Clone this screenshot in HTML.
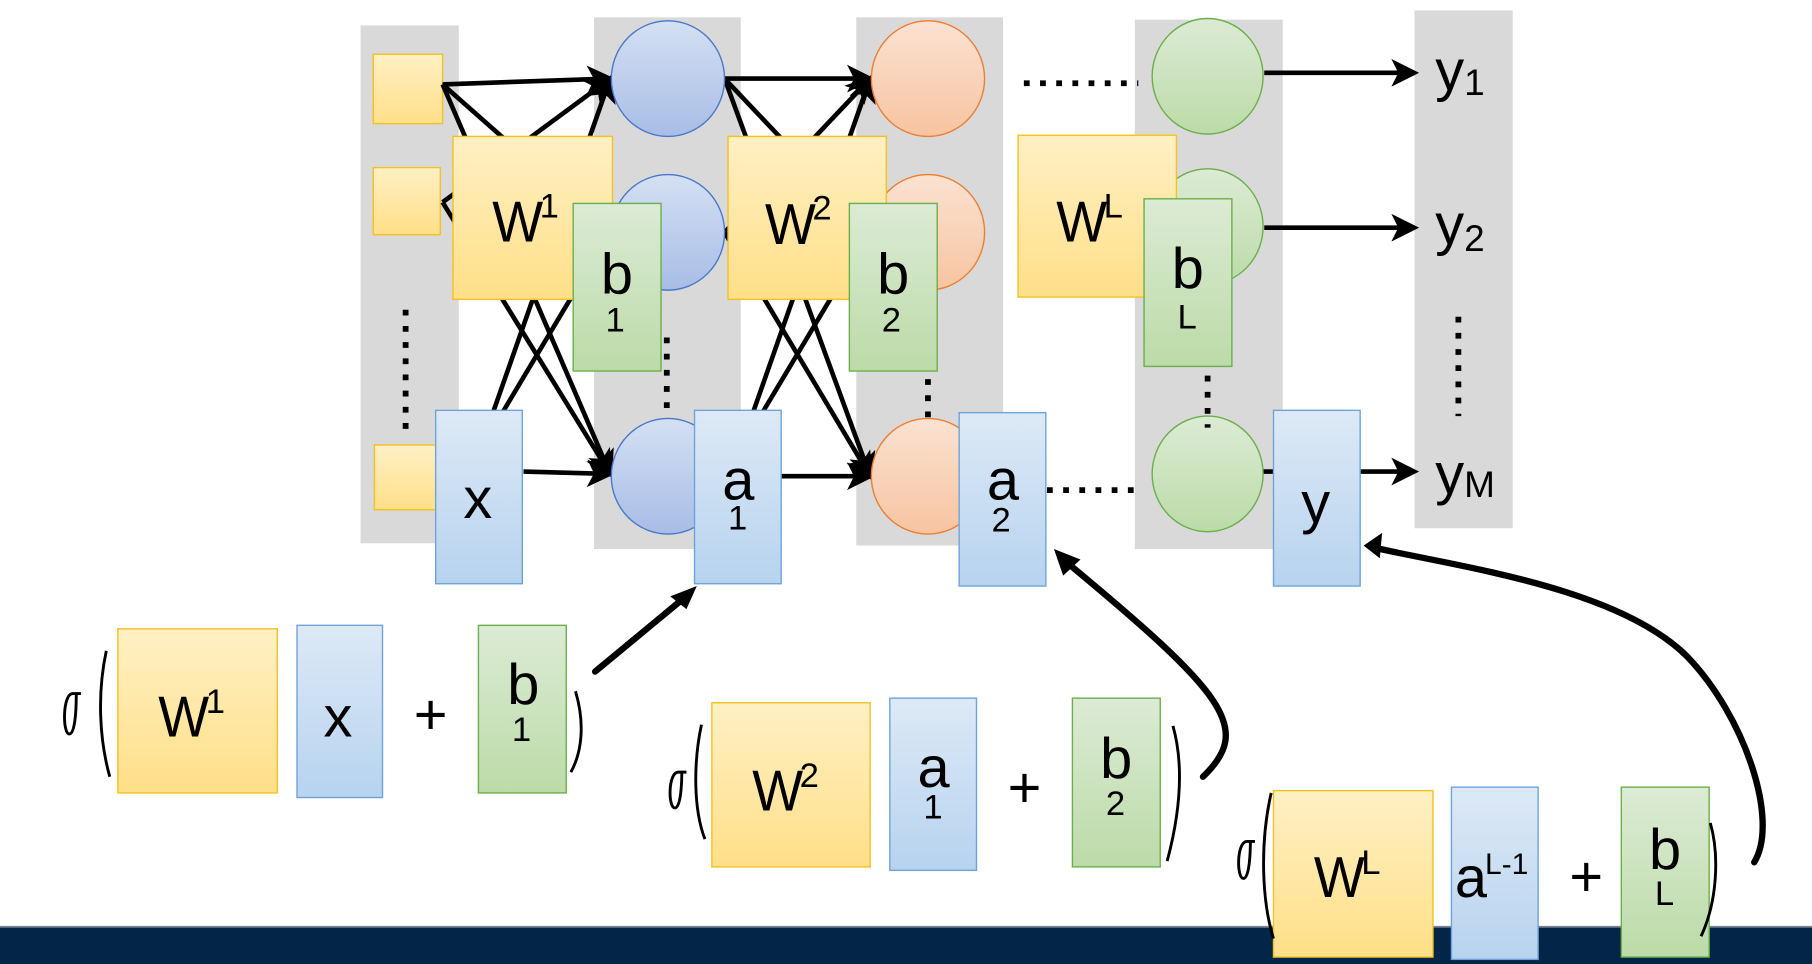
<!DOCTYPE html>
<html><head><meta charset="utf-8"><style>
html,body{margin:0;padding:0;background:#fff;overflow:hidden}
svg{display:block}
text{font-family:"Liberation Sans",sans-serif;fill:#000}
</style></head><body>
<svg width="1812" height="964" viewBox="0 0 1568 834" preserveAspectRatio="none" xmlns="http://www.w3.org/2000/svg">
<defs>
<linearGradient id="gy" x1="0" y1="0" x2="0" y2="1"><stop offset="0" stop-color="#fff0c4"/><stop offset="1" stop-color="#ffdf88"/></linearGradient>
<linearGradient id="gb" x1="0" y1="0" x2="0" y2="1"><stop offset="0" stop-color="#dde9f6"/><stop offset="1" stop-color="#b7d3ef"/></linearGradient>
<linearGradient id="gg" x1="0" y1="0" x2="0" y2="1"><stop offset="0" stop-color="#dcebd5"/><stop offset="1" stop-color="#bcdba8"/></linearGradient>
<linearGradient id="gc1" x1="0" y1="0" x2="0" y2="1"><stop offset="0" stop-color="#d4e0f3"/><stop offset="1" stop-color="#a8bde6"/></linearGradient>
<linearGradient id="gc2" x1="0" y1="0" x2="0" y2="1"><stop offset="0" stop-color="#fbe2d2"/><stop offset="1" stop-color="#f7c4a0"/></linearGradient>
<linearGradient id="gc3" x1="0" y1="0" x2="0" y2="1"><stop offset="0" stop-color="#dcebd5"/><stop offset="1" stop-color="#bcdba8"/></linearGradient>
<marker id="ar" markerWidth="6" markerHeight="6" refX="5" refY="3" orient="auto" markerUnits="strokeWidth"><path d="M0,0 L6,3 L0,6 L1.5,3 Z" fill="#000"/></marker>
</defs>

<g fill="#d9d9d9">
<rect x="312" y="22" width="85" height="448"/>
<rect x="514" y="15" width="127" height="460"/>
<rect x="741" y="15" width="127" height="457"/>
<rect x="982" y="17" width="128" height="458"/>
<rect x="1224" y="9" width="85" height="448"/>
</g>

<g fill="url(#gy)" stroke="#f5c021" stroke-width="1.2">
<rect x="323" y="47" width="60" height="60"/>
<rect x="323" y="145" width="58" height="58"/>
<rect x="324" y="385" width="60" height="56"/>
</g>

<g stroke="#000" stroke-width="4" fill="none" marker-end="url(#ar)">
<line x1="383" y1="73" x2="528" y2="68"/>
<line x1="383" y1="73" x2="528" y2="201"/>
<line x1="383" y1="73" x2="528" y2="410"/>
<line x1="383" y1="175" x2="528" y2="68"/>
<line x1="383" y1="175" x2="528" y2="410"/>
<line x1="415" y1="390" x2="528" y2="68"/>
<line x1="415" y1="390" x2="528" y2="201"/>
<line x1="453" y1="408" x2="528" y2="410"/>
<line x1="627" y1="68" x2="753" y2="68"/>
<line x1="627" y1="68" x2="753" y2="201"/>
<line x1="627" y1="68" x2="753" y2="412"/>
<line x1="627" y1="201" x2="753" y2="68"/>
<line x1="627" y1="201" x2="753" y2="412"/>
<line x1="640" y1="390" x2="753" y2="68"/>
<line x1="640" y1="390" x2="753" y2="201"/>
<line x1="676" y1="412" x2="753" y2="412"/>
<line x1="1094" y1="63" x2="1224" y2="63"/>
<line x1="1094" y1="197" x2="1224" y2="197"/>
<line x1="1092" y1="408" x2="1224" y2="408"/>
</g>

<g stroke="#4a77c9" stroke-width="1.2" fill="url(#gc1)">
<ellipse cx="578" cy="68" rx="49" ry="50"/>
<ellipse cx="578" cy="201" rx="49" ry="50"/>
<ellipse cx="578" cy="412" rx="49" ry="50"/>
</g>
<g stroke="#ed7d31" stroke-width="1.2" fill="url(#gc2)">
<ellipse cx="803" cy="68" rx="49" ry="50"/>
<ellipse cx="803" cy="201" rx="49" ry="50"/>
<ellipse cx="803" cy="412" rx="49" ry="50"/>
</g>
<g stroke="#6aaf4a" stroke-width="1.2" fill="url(#gc3)">
<ellipse cx="1045" cy="66" rx="48" ry="50"/>
<ellipse cx="1045" cy="196" rx="48" ry="50"/>
<ellipse cx="1045" cy="410" rx="48" ry="50"/>
</g>

<g stroke="#000" stroke-width="5" stroke-dasharray="5,9" fill="none">
<line x1="886" y1="72" x2="985" y2="72"/>
<line x1="906" y1="424" x2="985" y2="424"/>
<line x1="351" y1="268" x2="351" y2="372"/>
<line x1="577" y1="292" x2="577" y2="360"/>
<line x1="803" y1="328" x2="803" y2="368"/>
<line x1="1045" y1="325" x2="1045" y2="370"/>
<line x1="1262" y1="274" x2="1262" y2="360"/>
</g>

<g stroke-width="1.2">
<rect x="392" y="118" width="138" height="141" fill="url(#gy)" stroke="#f5c021"/>
<rect x="496" y="176" width="76" height="145" fill="url(#gg)" stroke="#6aaf4a"/>
<rect x="377" y="355" width="75" height="150" fill="url(#gb)" stroke="#6fa3d8"/>
<rect x="601" y="355" width="75" height="150" fill="url(#gb)" stroke="#6fa3d8"/>
<rect x="630" y="118" width="137" height="141" fill="url(#gy)" stroke="#f5c021"/>
<rect x="735" y="176" width="76" height="145" fill="url(#gg)" stroke="#6aaf4a"/>
<rect x="830" y="357" width="75" height="150" fill="url(#gb)" stroke="#6fa3d8"/>
<rect x="881" y="117" width="137" height="140" fill="url(#gy)" stroke="#f5c021"/>
<rect x="990" y="172" width="76" height="145" fill="url(#gg)" stroke="#6aaf4a"/>
<rect x="1102" y="355" width="75" height="152" fill="url(#gb)" stroke="#6fa3d8"/>
</g>

<g font-size="50">
<text x="426" y="209" textLength="44" lengthAdjust="spacingAndGlyphs">W</text><text x="467" y="188" font-size="30">1</text>
<text x="662" y="211" textLength="44" lengthAdjust="spacingAndGlyphs">W</text><text x="703" y="190" font-size="30">2</text>
<text x="914" y="209" textLength="44" lengthAdjust="spacingAndGlyphs">W</text><text x="955" y="188" font-size="30">L</text>
<text x="520" y="254">b</text><text x="524" y="287" font-size="30">1</text>
<text x="759" y="254">b</text><text x="763" y="287" font-size="30">2</text>
<text x="1014" y="249">b</text><text x="1019" y="284" font-size="30">L</text>
<text x="401" y="448">x</text>
<text x="625" y="432">a</text><text x="630" y="458" font-size="30">1</text>
<text x="854" y="432">a</text><text x="858" y="460" font-size="30">2</text>
<text x="1126" y="452">y</text>
<text x="1242" y="78">y</text><text x="1267" y="82" font-size="32">1</text>
<text x="1242" y="211">y</text><text x="1267" y="217" font-size="32">2</text>
<text x="1242" y="427">y</text><text x="1267" y="430" font-size="32">M</text>
</g>

<g stroke-width="1.2">
<rect x="102" y="544" width="138" height="142" fill="url(#gy)" stroke="#f5c021"/>
<rect x="257" y="541" width="74" height="149" fill="url(#gb)" stroke="#6fa3d8"/>
<rect x="414" y="541" width="76" height="145" fill="url(#gg)" stroke="#6aaf4a"/>
<rect x="616" y="608" width="137" height="142" fill="url(#gy)" stroke="#f5c021"/>
<rect x="770" y="604" width="75" height="149" fill="url(#gb)" stroke="#6fa3d8"/>
<rect x="928" y="604" width="76" height="146" fill="url(#gg)" stroke="#6aaf4a"/>
</g>
<g font-size="50">
<text x="137" y="637" textLength="44" lengthAdjust="spacingAndGlyphs">W</text><text x="178" y="617" font-size="30">1</text>
<text x="280" y="637">x</text>
<text x="358" y="635">+</text>
<text x="439" y="609">b</text><text x="443" y="641" font-size="30">1</text>
<text x="651" y="701" textLength="44" lengthAdjust="spacingAndGlyphs">W</text><text x="692" y="681" font-size="30">2</text>
<text x="794" y="681">a</text><text x="799" y="708" font-size="30">1</text>
<text x="872" y="698">+</text>
<text x="952" y="673">b</text><text x="957" y="705" font-size="30">2</text>
</g>
<g stroke="#000" stroke-width="2.5" fill="none">
<path d="M63,600 C54,600 54,635 60,635 C66,635 66,605 66,600 L70,600 Z"/>
<path d="M92,563 C84,600 86,640 95,672"/>
<path d="M498,598 C506,625 504,650 494,668"/>
<path d="M587,668 C578,668 578,699 584,699 C590,699 590,670 590,668 L594,668 Z"/>
<path d="M607,627 C600,660 600,700 610,726"/>
<path d="M1015,628 C1024,660 1022,700 1010,745"/>
<path d="M1079,728 C1070,728 1070,760 1076,760 C1082,760 1082,730 1082,728 L1086,728 Z"/>
</g>
<g stroke="#000" stroke-width="5.5" fill="none" stroke-linecap="round">
<path d="M515,581 L596,514"/>
<path d="M1041,672 C1085,630 1060,600 920,484"/>
<path d="M1518,746 C1540,710 1510,620 1460,568 C1400,508 1260,490 1190,474"/>
</g>
<g fill="#000">
<polygon points="603,507 580,516 594,527"/>
<polygon points="912,475 920,498 935,484"/>
<polygon points="1180,472 1196,461 1194,483"/>
</g>

<rect x="0" y="801" width="1568" height="1.5" fill="#7a8597"/>
<rect x="0" y="802.5" width="1568" height="32" fill="#022548"/>
<g stroke-width="1.2">
<rect x="1102" y="684" width="138" height="144" fill="url(#gy)" stroke="#f5c021"/>
<rect x="1256" y="681" width="75" height="149" fill="url(#gb)" stroke="#6fa3d8"/>
<rect x="1403" y="681" width="76" height="147" fill="url(#gg)" stroke="#6aaf4a"/>
</g>
<g font-size="50">
<text x="1137" y="776" textLength="44" lengthAdjust="spacingAndGlyphs">W</text><text x="1178" y="756" font-size="30">L</text>
<text x="1259" y="776">a</text><text x="1285" y="756" font-size="26">L-1</text>
<text x="1358" y="775">+</text>
<text x="1427" y="752">b</text><text x="1432" y="783" font-size="30">L</text>
</g>
<g stroke="#000" stroke-width="2.5" fill="none">
<path d="M1100,686 C1090,730 1092,780 1102,812"/>
<path d="M1480,712 C1488,740 1486,780 1472,810"/>
</g>
</svg>
</body></html>
